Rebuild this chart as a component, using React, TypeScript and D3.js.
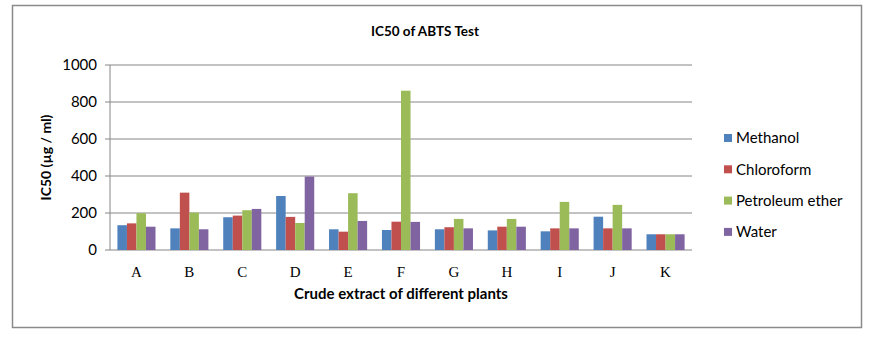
import React from 'react';
import * as d3 from 'd3';

const plants = ['A', 'B', 'C', 'D', 'E', 'F', 'G', 'H', 'I', 'J', 'K'];
const methanol = [134, 117, 177, 292, 112, 108, 112, 106, 101, 180, 85];
const chloroform = [144, 310, 186, 179, 99, 153, 123, 126, 117, 117, 85];
const petroleumEther = [199, 202, 215, 146, 307, 861, 168, 168, 260, 244, 85];
const water = [126, 112, 222, 397, 157, 152, 117, 126, 117, 117, 85];
const yTicks = [0, 200, 400, 600, 800, 1000];

const series = [
  { name: 'Methanol', values: methanol, color: '#4F81BD' },
  { name: 'Chloroform', values: chloroform, color: '#C0504D' },
  { name: 'Petroleum ether', values: petroleumEther, color: '#9BBB59' },
  { name: 'Water', values: water, color: '#8064A2' },
];

const W = 869;
const H = 337;
const plot = { left: 110, right: 692, top: 65, bottom: 250 };
const sans = 'Lato, "Open Sans", sans-serif';

export default function App() {
  const x = d3.scaleBand().domain(plants).range([plot.left, plot.right]).paddingInner(0).paddingOuter(0);
  // groups take ~72% of each band, like an Excel 150% gap
  const inner = d3
    .scaleBand()
    .domain(series.map((s) => s.name))
    .range([0, x.bandwidth() * 0.72]);
  const groupOffset = (x.bandwidth() - x.bandwidth() * 0.72) / 2;
  const y = d3.scaleLinear().domain([0, 1000]).range([plot.bottom, plot.top]);

  return (
    <svg width={W} height={H} style={{ position: 'absolute', left: 0, top: 0 }}>
      <rect x={0} y={0} width={W} height={H} fill="#fff" />
      <rect x={12.5} y={5.5} width={849} height={322} fill="#fff" stroke="#8a8a8a" strokeWidth={1.5} />

      <text x={425} y={36} textAnchor="middle" fontFamily={sans} fontWeight="bold" fontSize={13.5} fill="#000">
        IC50 of ABTS Test
      </text>

      {yTicks.map((t) => (
        <g key={t}>
          <line x1={plot.left - 5} x2={plot.right} y1={y(t)} y2={y(t)} stroke="#868686" strokeWidth={1} />
          <text x={97} y={y(t)} dy="0.35em" textAnchor="end" fontFamily={sans} fontSize={15} fill="#000">
            {t}
          </text>
        </g>
      ))}
      <line x1={plot.left} x2={plot.left} y1={plot.top} y2={plot.bottom} stroke="#868686" strokeWidth={1} />

      {plants.map((p, i) => (
        <g key={p}>
          {series.map((s) => (
            <rect
              key={s.name}
              x={(x(p) as number) + groupOffset + (inner(s.name) as number)}
              y={y(s.values[i])}
              width={inner.bandwidth()}
              height={y(0) - y(s.values[i])}
              fill={s.color}
            />
          ))}
          <text
            x={(x(p) as number) + x.bandwidth() / 2}
            y={277}
            textAnchor="middle"
            fontFamily='"Liberation Serif", "Times New Roman", serif'
            fontSize={15}
            fill="#000"
          >
            {p}
          </text>
        </g>
      ))}

      <text x={401} y={299} textAnchor="middle" fontFamily={sans} fontWeight="bold" fontSize={15} fill="#000">
        Crude extract of different plants
      </text>
      <text
        transform={`translate(51,${(plot.top + plot.bottom) / 2}) rotate(-90)`}
        textAnchor="middle"
        fontFamily={sans}
        fontWeight="bold"
        fontSize={14}
        fill="#000"
      >
        IC50 (µg / ml)
      </text>

      {series.map((s, i) => (
        <g key={s.name} transform={`translate(724,${138 + i * 31.3})`}>
          <rect x={0} y={-4} width={8} height={8} fill={s.color} />
          <text x={12} y={0} dy="0.35em" fontFamily={sans} fontSize={15} fill="#000">
            {s.name}
          </text>
        </g>
      ))}
    </svg>
  );
}
